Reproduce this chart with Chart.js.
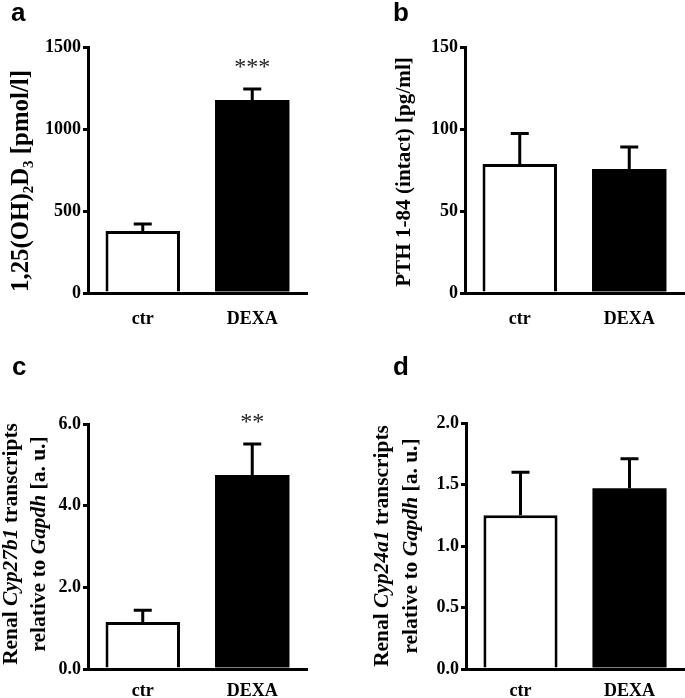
<!DOCTYPE html>
<html>
<head>
<meta charset="utf-8">
<script src="https://cdn.jsdelivr.net/npm/chart.js@4.4.1/dist/chart.umd.min.js"></script>
<style>
  html, body { margin: 0; padding: 0; background: #fff; }
  #wrap { position: relative; width: 685px; height: 698px; overflow: hidden; }
  canvas { position: absolute; }
</style>
</head>
<body>
<div id="wrap">
  <canvas id="pa" width="340" height="340" style="left:0;top:0"></canvas>
  <canvas id="pb" width="345" height="340" style="left:340px;top:0"></canvas>
  <canvas id="pc" width="340" height="358" style="left:0;top:340px"></canvas>
  <canvas id="pd" width="345" height="358" style="left:340px;top:340px"></canvas>
</div>
<script>
// groups
const groups = ["ctr", "DEXA"];

// a: 1,25(OH)2D3 [pmol/l]
const calcitriolMean = [378, 1177];
const calcitriolSem = [43, 67];
const calcitriolStars = ["", "***"];

// b: PTH 1-84 [pg/ml]
const pthMean = [78.7, 75.6];
const pthSem = [18.5, 13.5];

// c: Cyp27b1 / Gapdh
const cyp27Mean = [1.15, 4.75];
const cyp27Sem = [0.29, 0.76];
const cyp27Stars = ["", "**"];

// d: Cyp24a1 / Gapdh
const cyp24Mean = [1.25, 1.47];
const cyp24Sem = [0.35, 0.24];

// y axis ranges
const yRangeA = { max: 1500, step: 500 };
const yRangeB = { max: 150, step: 50 };
const yRangeC = { max: 6, step: 2 };
const yRangeD = { max: 2, step: 0.5 };

const SERIF = '"Liberation Serif", "Times New Roman", serif';

// mixed-style y titles (italic gene names, subscripts)
function segFont(s, size) {
  const sz = s.sub ? Math.round(size * 0.62) : size;
  return (s.it ? "italic " : "") + "bold " + sz + "px " + SERIF;
}
function segsWidth(ctx, segs, size) {
  let w = 0;
  segs.forEach(s => { ctx.font = segFont(s, size); w += ctx.measureText(s.t).width; });
  return w;
}

const deco = {
  id: "deco",
  afterDatasetsDraw(chart, args, o) {
    const ctx = chart.ctx;
    const y = chart.scales.y;
    const meta = chart.getDatasetMeta(0);
    const data = chart.data.datasets[0].data;
    ctx.save();
    ctx.strokeStyle = "#000";
    ctx.lineWidth = 3;
    meta.data.forEach((bar, i) => {
      const top = y.getPixelForValue(data[i] + o.sem[i]);
      ctx.beginPath();
      ctx.moveTo(bar.x, bar.y);
      ctx.lineTo(bar.x, top);
      ctx.moveTo(bar.x - 9, top);
      ctx.lineTo(bar.x + 9, top);
      ctx.stroke();
      if (o.stars && o.stars[i]) {
        ctx.fillStyle = "#222";
        ctx.font = "24px " + SERIF;
        ctx.textAlign = "center";
        ctx.textBaseline = "alphabetic";
        ctx.fillText(o.stars[i], bar.x, top - 15);
      }
    });
    ctx.restore();
  },
  afterDraw(chart, args, o) {
    const ctx = chart.ctx;
    ctx.save();
    ctx.fillStyle = "#000";
    // panel letter
    ctx.font = 'bold 26px "Liberation Sans", Arial, sans-serif';
    ctx.textAlign = "left";
    ctx.textBaseline = "alphabetic";
    ctx.fillText(o.letter, o.letterX, o.letterY);
    // y title, fitted to its length in the figure
    const t = o.title;
    const size = 20 * t.len / segsWidth(ctx, t.lines[0], 20);
    t.lines.forEach((segs, k) => {
      const w = segsWidth(ctx, segs, size);
      ctx.save();
      ctx.translate(t.xs[k], t.cy);
      ctx.rotate(-Math.PI / 2);
      ctx.textBaseline = "middle";
      let x = -w / 2;
      segs.forEach(s => {
        ctx.font = segFont(s, size);
        ctx.fillText(s.t, x, s.sub ? size * 0.28 : 0);
        x += ctx.measureText(s.t).width;
      });
      ctx.restore();
    });
    ctx.restore();
  }
};

function barChart(id, mean, sem, range, fmt, box, deco_) {
  const tickFont = { family: SERIF, weight: "bold", size: 18 };
  return new Chart(document.getElementById(id), {
    type: "bar",
    data: {
      labels: groups,
      datasets: [{
        data: mean,
        backgroundColor: ["#fff", "#000"],
        borderColor: "#000",
        borderWidth: [3, 0],
        borderSkipped: "bottom",
        barPercentage: 0.68,
        categoryPercentage: 1,
      }],
    },
    plugins: [deco],
    options: {
      responsive: false,
      animation: false,
      layout: { padding: { top: box.top, right: box.right, left: 0, bottom: 0 } },
      plugins: {
        legend: { display: false },
        tooltip: { enabled: false },
        deco: { sem, ...deco_ },
      },
      scales: {
        x: {
          offset: true,
          grid: { display: false },
          border: { display: true, color: "#000", width: 3 },
          ticks: { color: "#000", font: tickFont, padding: box.xPad, maxRotation: 0 },
          afterFit: s => { s.height = box.xh; },
        },
        y: {
          min: 0,
          max: range.max,
          grid: { display: true, drawOnChartArea: false, drawTicks: true, tickLength: 5, color: "#000", lineWidth: 3 },
          border: { display: true, color: "#000", width: 3 },
          ticks: { stepSize: range.step, color: "#000", font: tickFont, padding: 2, callback: fmt },
          afterFit: s => { s.width = box.yw; },
        },
      },
    },
  });
}

const intFmt = v => String(v);
const decFmt = v => Number(v).toFixed(1);

barChart("pa", calcitriolMean, calcitriolSem, yRangeA, intFmt,
  { top: 47, right: 33, xh: 47, yw: 88, xPad: 8 },
  { stars: calcitriolStars, letter: "a", letterX: 11, letterY: 21,
    title: { lines: [[{ t: "1,25(OH)" }, { t: "2", sub: true }, { t: "D" }, { t: "3", sub: true }, { t: " [pmol/l]" }]],
             xs: [22], cy: 181, len: 222 } });

barChart("pb", pthMean, pthSem, yRangeB, intFmt,
  { top: 47, right: 1, xh: 47, yw: 125, xPad: 8 },
  { letter: "b", letterX: 53, letterY: 21,
    title: { lines: [[{ t: "PTH 1-84 (intact) [pg/ml]" }]], xs: [65], cy: 172, len: 230 } });

barChart("pc", cyp27Mean, cyp27Sem, yRangeC, decFmt,
  { top: 84, right: 33, xh: 29, yw: 88, xPad: 4 },
  { stars: cyp27Stars, letter: "c", letterX: 12, letterY: 35,
    title: { lines: [[{ t: "Renal " }, { t: "Cyp27b1", it: true }, { t: " transcripts" }],
                     [{ t: "relative to " }, { t: "Gapdh", it: true }, { t: " [a. u.]" }]],
             xs: [11, 39], cy: 204, len: 242 } });

barChart("pd", cyp24Mean, cyp24Sem, yRangeD, decFmt,
  { top: 83, right: 1, xh: 29, yw: 126, xPad: 4 },
  { letter: "d", letterX: 53, letterY: 35,
    title: { lines: [[{ t: "Renal " }, { t: "Cyp24a1", it: true }, { t: " transcripts" }],
                     [{ t: "relative to " }, { t: "Gapdh", it: true }, { t: " [a. u.]" }]],
             xs: [42, 71], cy: 206, len: 242 } });
</script>
</body>
</html>
